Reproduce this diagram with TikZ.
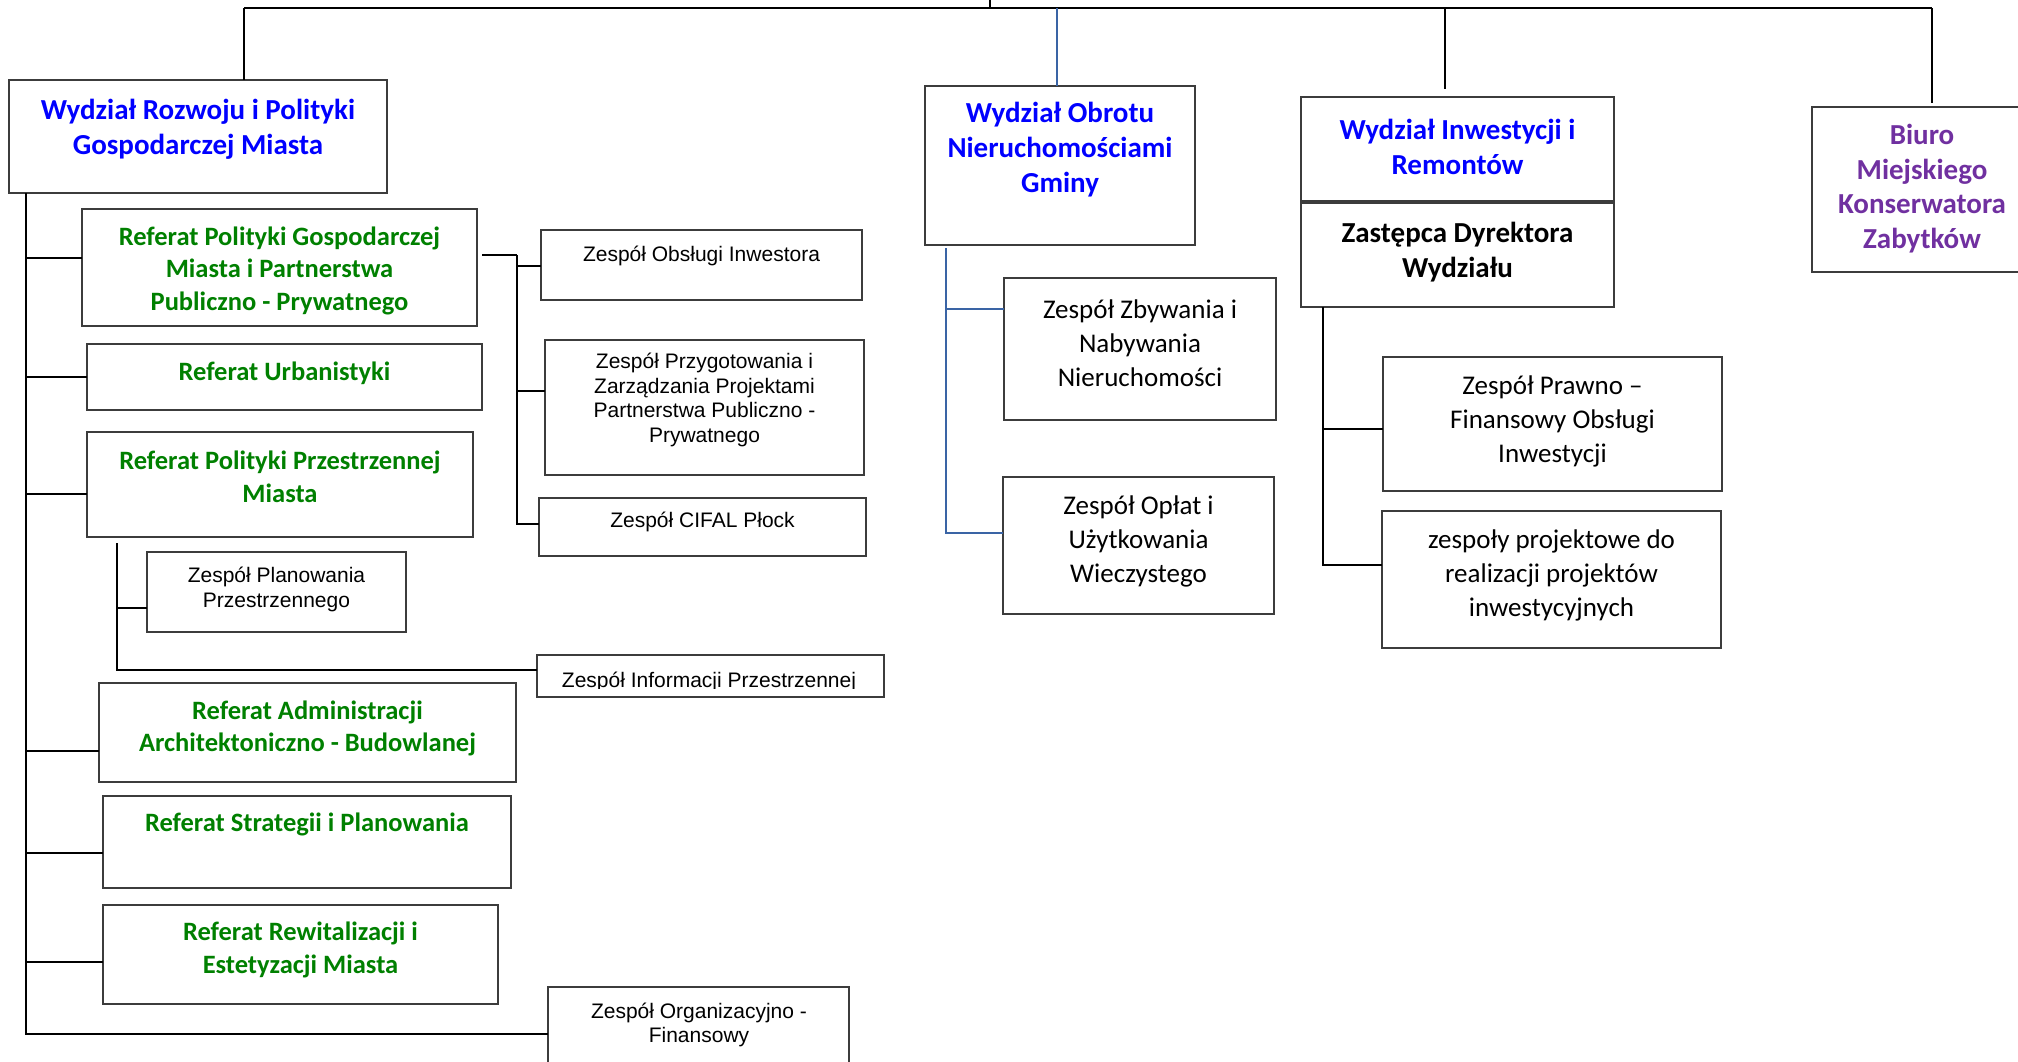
\documentclass[tikz,border=0pt]{standalone}
\usepackage{fontspec}
\usetikzlibrary{calc}
\setmainfont{Carlito}
\newfontfamily\arialfont{Liberation Sans}
\definecolor{hdblue}{RGB}{0,0,255}
\definecolor{refgreen}{RGB}{0,128,0}
\definecolor{biurop}{RGB}{112,48,160}
\definecolor{linkblue}{RGB}{58,100,165}
\definecolor{boxgray}{RGB}{60,60,60}

% box given by its corners: name, x1, y1, x2, y2 (y grows downwards)
\newcommand\orgbox[5]{%
  \node[box, minimum width={#4-#2}, minimum height={#5-#3}] (#1)
    at ({(#2+#4)/2},{(#3+#5)/2}) {};}

\begin{document}
\begin{tikzpicture}[x=1pt,y=-1pt,
  box/.style={draw=boxgray, line width=1.8pt, rectangle, inner sep=0pt, outer sep=0pt},
  conn/.style={draw=black, line width=2pt},
  bconn/.style={draw=linkblue, line width=2pt},
  topline/.style={draw=black, line width=2.6pt},
  hd/.style={font=\bfseries\fontsize{29}{35}\selectfont, text=hdblue, align=center, inner sep=0pt},
  gr/.style={font=\bfseries\fontsize{26.5}{32.5}\selectfont, text=refgreen, align=center, inner sep=0pt},
  ar/.style={font=\arialfont\fontsize{21}{24.6}\selectfont, align=center, inner sep=0pt},
  cb/.style={font=\fontsize{27}{34}\selectfont, align=center, inner sep=0pt},
  bk/.style={font=\bfseries\fontsize{29}{35}\selectfont, align=center, inner sep=0pt},
  pu/.style={font=\bfseries\fontsize{29}{34.5}\selectfont, text=biurop, align=center, inner sep=0pt}]

\useasboundingbox (0,0) rectangle (2018,1061);
\clip (0,0) rectangle (2018,1061);

% ---------- boxes ----------
\orgbox{wrozwoj}{9}{80}{387}{193}
\orgbox{rpg}{82}{209}{477}{326}
\orgbox{rurb}{87}{344}{482}{410}
\orgbox{rpp}{87}{432}{473}{537}
\orgbox{zplan}{147}{552}{406}{632}
\orgbox{zinf}{537}{655}{884}{697}
\orgbox{radm}{99}{683}{516}{782}
\orgbox{rstr}{103}{796}{511}{888}
\orgbox{rrew}{103}{905}{498}{1004}
\orgbox{zorg}{548}{987}{849}{1080}
\orgbox{zobs}{541}{230}{862}{300}
\orgbox{zprz}{545}{340}{864}{475}
\orgbox{zcif}{539}{498}{866}{556}
\orgbox{wobr}{925}{86}{1195}{245}
\orgbox{zzby}{1004}{278}{1276}{420}
\orgbox{zopl}{1003}{477}{1274}{614}
\orgbox{winw}{1301}{97}{1614}{201}
\orgbox{zast}{1301}{203}{1614}{307}
\orgbox{zpraw}{1383}{357}{1722}{491}
\orgbox{zproj}{1382}{511}{1721}{648}
\orgbox{biuro}{1812}{107}{2032}{272}

% ---------- texts ----------
\node[hd] (t-wrozwoj) at (198,129.5) {Wydział Rozwoju i Polityki\\Gospodarczej Miasta};
\node[gr] (t-rpg) at (279.5,270.5) {Referat Polityki Gospodarczej\\Miasta i Partnerstwa\\Publiczno - Prywatnego};
\node[gr] (t-rurb) at (284.5,373) {Referat Urbanistyki};
\node[gr] (t-rpp) at (280,477) {Referat Polityki Przestrzennej\\Miasta};
\node[ar] (t-zplan) at (276.5,589.5) {Zespół Planowania\\Przestrzennego};
% the single line of this team sits on the lower edge: descenders are cut off
\begin{scope}
  \clip (zinf.north west) rectangle ($(zinf.south east)+(0,-9)$);
  \node[ar, anchor=base] (t-zinf) at (709,687) {Zespół Informacji Przestrzennej};
\end{scope}
\node[gr] (t-radm) at (307.5,728.5) {Referat Administracji\\Architektoniczno - Budowlanej};
\node[gr] (t-rstr) at (307,824) {Referat Strategii i Planowania};
\node[gr] (t-rrew) at (300.5,950) {Referat Rewitalizacji i\\Estetyzacji Miasta};
\node[ar] (t-zorg) at (699,1025) {Zespół Organizacyjno -\\Finansowy};
\node[ar] (t-zobs) at (701.5,256) {Zespół Obsługi Inwestora};
\node[ar] (t-zprz) at (704.5,400) {Zespół Przygotowania i\\Zarządzania Projektami\\Partnerstwa Publiczno -\\Prywatnego};
\node[ar] (t-zcif) at (702.5,522) {Zespół CIFAL Płock};
\node[hd] (t-wobr) at (1060,149.5) {Wydział Obrotu\\Nieruchomościami\\Gminy};
\node[cb] (t-zzby) at (1140,343) {Zespół Zbywania i\\Nabywania\\Nieruchomości};
\node[cb] (t-zopl) at (1138.5,541) {Zespół Opłat i\\Użytkowania\\Wieczystego};
\node[hd] (t-winw) at (1457.5,146.5) {Wydział Inwestycji i\\Remontów};
\node[bk] (t-zast) at (1457.5,252.5) {Zastępca Dyrektora\\Wydziału};
\node[cb] (t-zpraw) at (1552.5,421) {Zespół Prawno –\\Finansowy Obsługi\\Inwestycji};
\node[cb] (t-zproj) at (1551.5,575.5) {zespoły projektowe do\\realizacji projektów\\inwestycyjnych};
\node[pu] (t-biuro) at (1922,188.5) {Biuro\\Miejskiego\\Konserwatora\\Zabytków};

% ---------- top level bus ----------
\coordinate (up) at (990,0);
\coordinate (topM) at (990,8);
\coordinate (topL) at (244,8);
\coordinate (topR) at (1932,8);
\coordinate (tobr) at (1057,8);
\coordinate (tinw) at (1445,8);
\draw[conn] (up) -- (topM);
\draw[topline] (topL) -- (topR);
\draw[conn] (topL) -- (topL |- wrozwoj.north);
\draw[bconn] (tobr) -- (tobr |- wobr.north);
\draw[conn, shorten >=8pt] (tinw) -- (tinw |- winw.north);
\draw[conn, shorten >=4pt] (topR) -- (topR |- biuro.north);

% ---------- Wydział Rozwoju: main spine ----------
\coordinate (spTop) at (26,193);
\coordinate (rpg-in) at (rpg.west |- 0,258);
\coordinate (rurb-in) at (rurb.west |- 0,377);
\coordinate (rpp-in) at (rpp.west |- 0,494);
\coordinate (radm-in) at (radm.west |- 0,751);
\coordinate (rstr-in) at (rstr.west |- 0,853);
\coordinate (rrew-in) at (rrew.west |- 0,962);
\draw[conn] (spTop) |- (zorg.west);
\foreach \b in {rpg-in,rurb-in,rpp-in,radm-in,rstr-in,rrew-in}
  \draw[conn] (spTop |- \b) -- (\b);

% ---------- Referat Polityki Gospodarczej: teams ----------
\coordinate (rpg-out) at (rpg.east |- 0,255);
\coordinate (busA) at (517,255);
\coordinate (zobs-in) at (zobs.west |- 0,266);
\coordinate (zprz-in) at (zprz.west |- 0,391);
\coordinate (zcif-in) at (zcif.west |- 0,524);
\draw[conn, shorten <=5pt] (rpg-out) -- (busA);
\draw[conn] (busA) |- (zcif-in);
\draw[conn] (busA |- zobs-in) -- (zobs-in);
\draw[conn] (busA |- zprz-in) -- (zprz-in);

% ---------- Referat Polityki Przestrzennej: teams ----------
\coordinate (rppBus) at (117,543);
\coordinate (zplan-in) at (zplan.west |- 0,608);
\coordinate (zinf-in) at (zinf.west |- 0,670);
\draw[conn] (rppBus) |- (zinf-in);
\draw[conn] (rppBus |- zplan-in) -- (zplan-in);

% ---------- Wydział Obrotu: teams ----------
\coordinate (obrBus) at (946,248);
\coordinate (zzby-in) at (zzby.west |- 0,309);
\coordinate (zopl-in) at (zopl.west |- 0,533);
\draw[bconn] (obrBus) |- (zopl-in);
\draw[bconn] (obrBus |- zzby-in) -- (zzby-in);

% ---------- Zastępca Dyrektora: teams ----------
\coordinate (zastBus) at (zast.south -| 1323,0);
\coordinate (zpraw-in) at (zpraw.west |- 0,429);
\coordinate (zproj-in) at (zproj.west |- 0,565);
\draw[conn] (zastBus) |- (zproj-in);
\draw[conn] (zastBus |- zpraw-in) -- (zpraw-in);
\end{tikzpicture}
\end{document}
